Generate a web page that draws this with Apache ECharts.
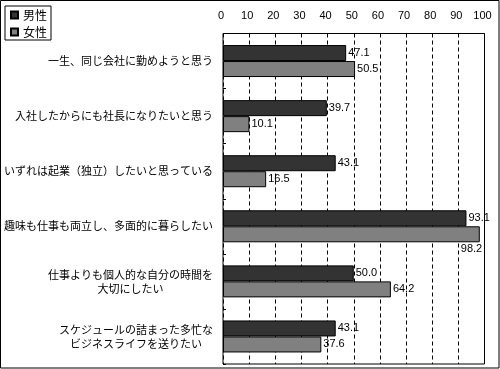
<!DOCTYPE html>
<html><head><meta charset="utf-8">
<script src="https://cdn.jsdelivr.net/npm/echarts@6/dist/echarts.min.js"></script>
<style>html,body{margin:0;padding:0;background:#fff}#c{width:500px;height:369px}</style>
</head><body><div id="c"></div>
<script>
const categories = [
  '一生、同じ会社に勤めようと思う',
  '入社したからにも社長になりたいと思う',
  'いずれは起業（独立）したいと思っている',
  '趣味も仕事も両立し、多面的に暮らしたい',
  '仕事よりも個人的な自分の時間を\n大切にしたい',
  'スケジュールの詰まった多忙な\nビジネスライフを送りたい'
];
const seriesNames = ['男性', '女性'];
const male = [47.1, 39.7, 43.1, 93.1, 50.0, 43.1];
const female = [50.5, 10.1, 16.5, 98.2, 64.2, 37.6];

const jp = '"Noto Sans CJK JP", sans-serif';
const num = '"Liberation Sans", Arial, sans-serif';

const chart = echarts.init(document.getElementById('c'), null, {renderer: 'canvas'});
const labelCfg = {
  show: true, position: 'right', distance: 2, color: '#000',
  fontFamily: num, fontSize: 11,
  formatter: p => Number(p.value).toFixed(1)
};
chart.setOption({
  animation: false,
  backgroundColor: '#fff',
  graphic: [{
    type: 'rect', shape: {x: 0.5, y: 0.5, width: 498.5, height: 367.5},
    style: {fill: 'none', stroke: '#000', lineWidth: 1}, silent: true
  }],
  legend: {
    orient: 'vertical', left: 5, top: 6,
    padding: [3, 4, 2, 5],
    borderColor: '#000', borderWidth: 1,
    itemWidth: 7, itemHeight: 7, itemGap: 5,
    textStyle: {fontFamily: jp, fontSize: 12, color: '#000'},
    data: seriesNames.map(n => ({name: n, icon: 'rect'}))
  },
  grid: {
    left: 223, right: 15.5, top: 33.5, bottom: 5,
    show: true, borderColor: '#000', borderWidth: 1, backgroundColor: 'transparent'
  },
  xAxis: {
    type: 'value', position: 'top', min: 0, max: 100, interval: 10,
    axisLine: {show: false}, axisTick: {show: false},
    axisLabel: {color: '#000', fontFamily: num, fontSize: 11, margin: 12, padding: [0, 4, 0, 0]},
    splitLine: {show: true, lineStyle: {color: '#000', type: [4, 3], width: 1}}
  },
  yAxis: {
    type: 'category', inverse: true, data: categories,
    axisLine: {show: false},
    axisTick: {show: true, inside: true, length: 3, lineStyle: {color: '#000'}},
    axisLabel: {
      color: '#000', margin: 10, fontFamily: jp, fontSize: 11,
      formatter: s => s.split('\n').map(l => '{c|' + l + '}').join('\n'),
      rich: {c: {align: 'center', fontFamily: jp, fontSize: 11, lineHeight: 14, color: '#000'}}
    },
    splitLine: {show: false}
  },
  series: [
    {
      name: seriesNames[0], type: 'bar', data: male, barWidth: 16, barGap: '0%',
      itemStyle: {color: '#333333', borderColor: '#000', borderWidth: 1},
      label: labelCfg
    },
    {
      name: seriesNames[1], type: 'bar', barWidth: 16,
      data: female.map(v => v > 95 ? {value: v, label: {offset: [-21, 15]}} : v),
      itemStyle: {color: '#808080', borderColor: '#000', borderWidth: 1},
      label: labelCfg
    }
  ]
});
</script></body></html>
